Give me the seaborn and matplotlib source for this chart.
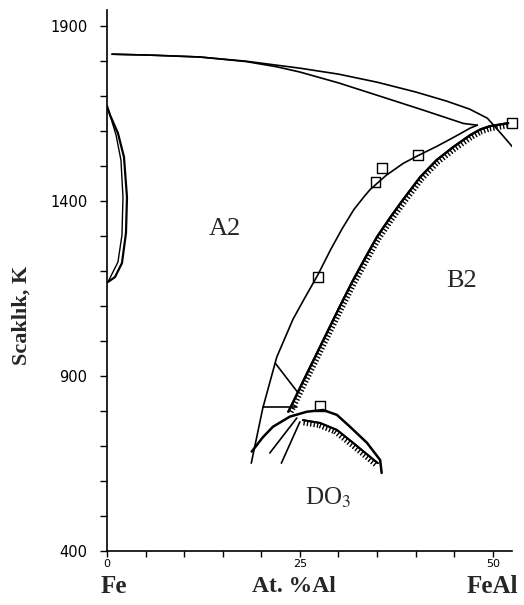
import matplotlib
matplotlib.use('Agg')
import matplotlib.pyplot as plt
import matplotlib.patheffects as pe
import seaborn as sns
import numpy as np

# liquidus / solidus at the top
liq_x = [0.65, 6, 12, 18, 25, 30, 35, 40, 44, 47, 49.3, 51.0, 52.6]
liq_T = [1820, 1817, 1812, 1800, 1780, 1763, 1740, 1712, 1686, 1663, 1637, 1595, 1554]
sol_x = [0.65, 6, 12, 18, 22, 25, 30, 35.8, 41.0, 46.2, 48.0]
sol_T = [1820, 1817, 1812, 1799, 1784, 1769, 1738, 1697, 1660, 1622, 1617]

# gamma loop near pure Fe
loop_out_x = [0.0, 0.39, 1.42, 2.20, 2.59, 2.46, 1.94, 1.04, 0.13]
loop_out_T = [1672, 1646, 1594, 1526, 1411, 1309, 1223, 1183, 1169]
loop_in_x = [0.39, 1.17, 1.81, 2.07, 1.94, 1.42, 0.13]
loop_in_T = [1646, 1589, 1517, 1411, 1303, 1226, 1169]

# A2 / B2 boundary (open squares)
a2b2_x = [48.0, 47.1, 44.9, 42.7, 40.3, 38.4, 36.2, 34.1, 33.4, 32.0, 30.5, 29.0, 27.3, 25.6, 24.1, 22.0, 20.2, 18.7]
a2b2_T = [1617, 1609, 1582, 1556, 1530, 1508, 1474, 1433, 1415, 1376, 1322, 1262, 1188, 1122, 1062, 954, 809, 651]
sq_x = [52.5, 40.3, 35.6, 34.8, 27.3, 27.6]
sq_T = [1624, 1532, 1494, 1454, 1183, 815]

# B2 / DO3 boundary (hatched)
b2do3_x = [52.0, 49.6, 48.4, 47.1, 44.9, 42.7, 40.6, 38.4, 36.7, 35.0, 33.4, 31.8, 30.2, 28.6, 27.0, 25.4, 24.0, 23.5]
b2do3_T = [1623, 1614, 1605, 1589, 1555, 1517, 1469, 1405, 1353, 1298, 1235, 1170, 1100, 1028, 956, 884, 820, 798]

# DO3 dome
dome_x = [18.76, 20.2, 21.5, 23.7, 25.9, 28.0, 29.8, 31.5, 33.7, 35.4, 35.6]
dome_T = [684, 725, 755, 784, 798, 803, 789, 755, 709, 660, 623]
dome_h_x = [25.4, 27.6, 29.8, 31.9, 34.1, 35.1]
dome_h_T = [774, 766, 746, 709, 669, 651]

# short construction lines
branch_x = [21.8, 24.7]
branch_T = [937, 854]
horiz_x = [20.2, 24.6]
horiz_T = [811, 811]
low1_x = [21.1, 24.6]
low1_T = [680, 780]
low2_x = [22.6, 25.0]
low2_T = [651, 769]

x_ticks = list(range(0, 55, 5))
x_tick_labels = ['0', '', '', '', '', '25', '', '', '', '', '50']
y_ticks = list(range(400, 2000, 100))
y_tick_labels = [str(t) if t in (400, 900, 1400, 1900) else '' for t in y_ticks]

sns.set_style('ticks')
plt.rcParams['font.family'] = ['DejaVu Sans']
plt.rcParams['mathtext.fontset'] = 'stix'

fig = plt.figure(figsize=(5.24, 6.05), dpi=100)
ax = fig.add_axes([0.2042, 0.0893, 0.773, 0.894])

def curve(x, y, lw=1.2, **kw):
    sns.lineplot(x=x, y=y, sort=False, estimator=None, color='black',
                 lw=lw, ax=ax, **kw)

ticked = lambda a: [pe.withTickedStroke(angle=a, spacing=2.4, length=1.4, linewidth=1.0),
                    pe.Normal()]

curve(liq_x, liq_T)
curve(sol_x, sol_T)
curve(loop_out_x, loop_out_T, lw=1.6)
curve(loop_in_x, loop_in_T, lw=1.0)
curve(a2b2_x, a2b2_T)
curve(b2do3_x, b2do3_T, lw=1.6, path_effects=ticked(90))
curve(dome_x, dome_T, lw=1.8)
curve(dome_h_x, dome_h_T, lw=1.4, path_effects=ticked(-90))
curve(branch_x, branch_T)
curve(horiz_x, horiz_T)
curve(low1_x, low1_T)
curve(low2_x, low2_T)

sns.scatterplot(x=sq_x, y=sq_T, marker='s', s=50, color='black', ax=ax,
                linewidth=1.0, zorder=5, clip_on=False)
ax.collections[-1].set_facecolor('none')
ax.collections[-1].set_edgecolor('black')

ax.set_xlim(0, 52.5)
ax.set_ylim(400, 1946)
ax.set_xticks(x_ticks)
ax.set_xticklabels(x_tick_labels, fontsize=8)
ax.set_yticks(y_ticks)
ax.set_yticklabels(y_tick_labels, fontsize=10.5)
ax.tick_params(axis='y', direction='out', length=5, width=1, pad=9, colors='black')
ax.tick_params(axis='x', direction='out', length=4, width=1, pad=2, colors='black')
sns.despine(ax=ax)
for s in ('left', 'bottom'):
    ax.spines[s].set_linewidth(1.2)
    ax.spines[s].set_color('black')
ax.set_xlabel('')
ax.set_ylabel('')

serif = ['Liberation Serif', 'DejaVu Serif']
ax.text(15.3, 1320, 'A2', family=serif, fontsize=19, ha='center', va='center')
ax.text(45.9, 1171, 'B2', family=serif, fontsize=19, ha='center', va='center')
ax.text(28.6, 531, 'DO$_3$', family=serif, fontsize=18, ha='center', va='baseline')

xt = ax.get_xaxis_transform()
ax.text(0.85, -0.065, 'Fe', family=serif, fontweight='bold', fontsize=18,
        ha='center', va='center', transform=xt)
ax.text(24.2, -0.065, 'At. %Al', family=serif, fontweight='bold', fontsize=17,
        ha='center', va='center', transform=xt)
ax.text(49.9, -0.065, 'FeAl', family=serif, fontweight='bold', fontsize=18,
        ha='center', va='center', transform=xt)
ax.text(-0.21, 0.436, 'Scaklık, K', family=serif, fontweight='bold', fontsize=16,
        rotation=90, ha='center', va='center', transform=ax.transAxes)

fig.savefig('out.png', dpi=100)
